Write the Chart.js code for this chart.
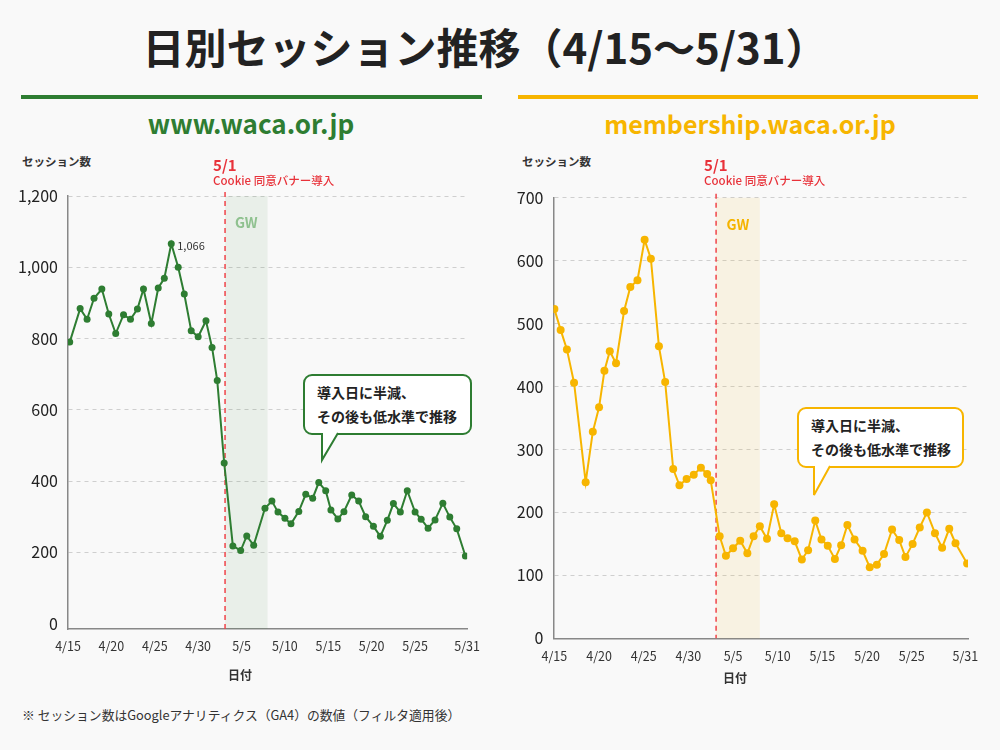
<!DOCTYPE html>
<html lang="ja">
<head>
<meta charset="utf-8">
<title>日別セッション推移</title>
<script src="https://cdn.jsdelivr.net/npm/chart.js@4.4.1/dist/chart.umd.min.js"></script>
<style>
  html, body { margin: 0; padding: 0; }
  body { width: 1000px; height: 750px; background: #f9f9f9; position: relative; overflow: hidden;
         font-family: 'Noto Sans CJK JP', 'Noto Sans', sans-serif; color: #222; }
  .t { position: absolute; line-height: 1; white-space: nowrap; }
  canvas { position: absolute; }
  .regua { position: absolute; top: 95px; height: 4px; }
  .balao { position: absolute; box-sizing: border-box; border: 2px solid; border-radius: 9px; background: #fff;
           padding: 5px 0 0 12px; font-size: 14px; font-weight: 700; line-height: 23.7px; color: #222; }
  .rabo { position: absolute; overflow: visible; }
</style>
</head>
<body>
<div class="t" style="left:0;width:970px;text-align:center;top:25px;font-size:42px;font-weight:700;color:#222">日別セッション推移（4/15〜5/31）</div>

<div class="regua" style="left:21px;width:461px;background:#2e7d32"></div>
<div class="regua" style="left:518px;width:460px;background:#f7b500"></div>
<div class="t" style="left:51px;width:400px;text-align:center;top:110px;font-size:26px;font-weight:700;color:#2e7d32">www.waca.or.jp</div>
<div class="t" style="left:550px;width:400px;text-align:center;top:111px;font-size:25px;font-weight:700;color:#f7b500">membership.waca.or.jp</div>

<div class="t" style="left:22px;top:156px;font-size:11.5px;font-weight:700;color:#333">セッション数</div>
<div class="t" style="left:522px;top:156px;font-size:11.5px;font-weight:700;color:#333">セッション数</div>

<canvas id="graficoWaca" width="490" height="540" style="left:0;top:150px"></canvas>
<canvas id="graficoMember" width="500" height="540" style="left:490px;top:150px"></canvas>

<div class="t" style="left:228px;top:669px;font-size:12px;font-weight:700;color:#333">日付</div>
<div class="t" style="left:723px;top:672px;font-size:12px;font-weight:700;color:#333">日付</div>

<div class="balao" style="left:303px;top:374px;width:169px;height:61px;border-color:#2e7d32">
  <div>導入日に半減、</div><div>その後も低水準で推移</div>
</div>
<svg class="rabo" style="left:318px;top:432px" width="26" height="32">
  <polygon points="4,0 4,28 20,0" fill="#fff"/>
  <polyline points="4,1 4,28 20,1" fill="none" stroke="#2e7d32" stroke-width="2"/>
</svg>

<div class="balao" style="left:797px;top:407px;width:167px;height:61px;border-color:#f7b500">
  <div>導入日に半減、</div><div>その後も低水準で推移</div>
</div>
<svg class="rabo" style="left:810px;top:465px" width="26" height="34">
  <polygon points="4,0 4,30 20,0" fill="#fff"/>
  <polyline points="4,1 4,30 20,1" fill="none" stroke="#f7b500" stroke-width="2"/>
</svg>

<div class="t" style="left:22px;top:709px;font-size:12.8px;color:#333">※ セッション数はGoogleアナリティクス（GA4）の数値（フィルタ適用後）</div>

<script>
// eixo x em dias a partir de 4/15
const xTickDays = [0, 5, 10, 15, 20, 25, 30, 35, 40, 46];
const xTickLabels = ['4/15', '4/20', '4/25', '4/30', '5/5', '5/10', '5/15', '5/20', '5/25', '5/31'];

const wacaYTicks = [0, 200, 400, 600, 800, 1000, 1200];
const memberYTicks = [0, 100, 200, 300, 400, 500, 600, 700];

// www.waca.or.jp
const wacaDays = [0.2, 1.4, 2.2, 3.0, 3.9, 4.7, 5.5, 6.4, 7.2, 8.0,
  8.7, 9.6, 10.4, 11.1, 11.9, 12.7, 13.4, 14.2, 15.0, 15.9,
  16.6, 17.2, 18.0, 19.0, 19.9, 20.6, 21.4, 22.7, 23.5, 24.2,
  25.0, 25.7, 26.6, 27.4, 28.2, 28.9, 29.7, 30.3, 31.1, 31.8,
  32.7, 33.5, 34.3, 35.2, 36.0, 36.8, 37.5, 38.3, 39.1, 40.0,
  40.7, 41.5, 42.3, 43.2, 44.0, 44.8, 45.8];
const wacaSessions = [790, 884, 854, 913, 939, 869, 814, 867, 854, 883,
  939, 842, 942, 969, 1066, 1000, 925, 822, 805, 850,
  775, 682, 451, 218, 205, 246, 220, 324, 344, 313,
  296, 280, 315, 363, 352, 396, 373, 319, 294, 314,
  361, 344, 300, 273, 245, 290, 337, 313, 373, 313,
  293, 268, 291, 338, 299, 266, 190];

// membership.waca.or.jp
const memberDays = [0.0, 0.7, 1.4, 2.2, 3.5, 4.3, 5.0, 5.6, 6.2, 6.9,
  7.8, 8.5, 9.3, 10.1, 10.8, 11.7, 12.4, 13.3, 14.0, 14.8,
  15.6, 16.4, 17.1, 17.5, 18.5, 19.2, 20.0, 20.8, 21.6, 22.3,
  23.0, 23.8, 24.6, 25.4, 26.1, 26.9, 27.7, 28.4, 29.2, 29.9,
  30.6, 31.4, 32.1, 32.8, 33.6, 34.5, 35.3, 36.1, 36.9, 37.8,
  38.6, 39.3, 40.1, 40.9, 41.7, 42.6, 43.4, 44.2, 44.9, 46.2];
const memberSessions = [523, 490, 459, 406, 248, 328, 367, 425, 456, 437,
  520, 558, 569, 633, 603, 464, 407, 269, 243, 253,
  260, 271, 261, 251, 162, 131, 143, 155, 135, 162,
  178, 158, 213, 167, 159, 154, 125, 140, 187, 157,
  147, 126, 148, 180, 157, 139, 113, 117, 134, 173,
  156, 129, 150, 176, 200, 167, 144, 174, 151, 119];

const bannerDay = 18.1;   // 5/1 Cookie同意バナー導入
const gwStart = 18.1;
const gwEnd = 23.0;

const fonteEixo = "'Noto Sans CJK JP', sans-serif";

function marcadores(cfg) {
  return {
    id: 'marcadores',
    beforeDatasetsDraw(chart) {
      const { ctx, chartArea: a, scales: { x } } = chart;
      const x1 = x.getPixelForValue(gwStart);
      const x2 = x.getPixelForValue(gwEnd);
      const xr = x.getPixelForValue(bannerDay);
      ctx.save();
      ctx.fillStyle = cfg.faixa;
      ctx.fillRect(x1, a.top, x2 - x1, a.bottom - a.top);

      ctx.strokeStyle = '#f0454a';
      ctx.lineWidth = 1.5;
      ctx.setLineDash([5, 4]);
      ctx.beginPath();
      ctx.moveTo(xr, a.top - 4);
      ctx.lineTo(xr, a.bottom);
      ctx.stroke();
      ctx.setLineDash([]);

      ctx.fillStyle = '#e8323a';
      ctx.textAlign = 'left';
      ctx.textBaseline = 'middle';
      ctx.font = 'bold 15px ' + fonteEixo;
      ctx.fillText('5/1', xr - 12, 15);
      ctx.font = '500 11.5px ' + fonteEixo;
      ctx.fillText('Cookie 同意バナー導入', xr - 12, 31);

      ctx.fillStyle = cfg.gwCor;
      ctx.textAlign = 'center';
      ctx.font = 'bold 14px ' + fonteEixo;
      ctx.fillText('GW', (x1 + x2) / 2, a.top + 27);
      ctx.restore();
    },
    afterDatasetsDraw(chart) {
      if (!cfg.rotuloPico) return;
      const { ctx } = chart;
      const valores = chart.data.datasets[0].data.map(p => p.y);
      const i = valores.indexOf(Math.max(...valores));
      const ponto = chart.getDatasetMeta(0).data[i];
      ctx.save();
      ctx.fillStyle = '#333';
      ctx.font = '11px ' + fonteEixo;
      ctx.textAlign = 'left';
      ctx.textBaseline = 'middle';
      ctx.fillText(valores[i].toLocaleString('en-US'), ponto.x + 6, ponto.y + 2);
      ctx.restore();
    }
  };
}

function criaGrafico(canvas, cfg) {
  return new Chart(canvas, {
    type: 'line',
    data: {
      datasets: [{
        data: cfg.dias.map((d, i) => ({ x: d, y: cfg.valores[i] })),
        borderColor: cfg.cor,
        backgroundColor: cfg.cor,
        borderWidth: 2,
        pointRadius: cfg.raio,
        pointBorderWidth: 0,
        tension: 0
      }]
    },
    options: {
      responsive: false,
      animation: false,
      layout: { padding: cfg.padding },
      plugins: { legend: { display: false }, tooltip: { enabled: false } },
      scales: {
        x: {
          type: 'linear',
          min: cfg.xMin,
          max: cfg.xMax,
          afterBuildTicks: s => { s.ticks = xTickDays.map(v => ({ value: v })); },
          afterFit: s => { s.height = cfg.alturaX; },
          ticks: {
            autoSkip: false, maxRotation: 0, padding: 10, color: '#333',
            font: { family: fonteEixo, size: 12.5 },
            callback: (v, i) => xTickLabels[i]
          },
          grid: { display: false, drawTicks: false },
          border: { color: '#888', width: 1.5 }
        },
        y: {
          min: cfg.yMin,
          max: cfg.yMax,
          afterBuildTicks: s => { s.ticks = cfg.yTicks.map(v => ({ value: v })); },
          afterFit: s => { s.width = cfg.larguraY; },
          ticks: {
            padding: 10, color: '#222',
            font: { family: fonteEixo, size: 16 },
            callback: v => v.toLocaleString('en-US')
          },
          grid: {
            drawTicks: false, lineWidth: 1,
            color: c => (c.tick && c.tick.value === 0) ? 'rgba(0,0,0,0)' : '#cfcfcf'
          },
          border: { color: '#888', width: 1.5, dash: [4, 4] }
        }
      }
    },
    plugins: [marcadores(cfg)]
  });
}

const graficoWaca = criaGrafico(document.querySelector('#graficoWaca'), {
  dias: wacaDays, valores: wacaSessions, yTicks: wacaYTicks,
  cor: '#2e7d32', faixa: 'rgba(46,125,50,0.08)', gwCor: '#8fc18f', rotuloPico: true, raio: 3.5,
  padding: { top: 46, right: 18, left: 0, bottom: 0 },
  larguraY: 68, alturaX: 61, xMin: 0, xMax: 46, yMin: -15, yMax: 1200
});

const graficoMember = criaGrafico(document.querySelector('#graficoMember'), {
  dias: memberDays, valores: memberSessions, yTicks: memberYTicks,
  cor: '#f7b500', faixa: 'rgba(247,181,0,0.09)', gwCor: '#f5b400', rotuloPico: false, raio: 4,
  padding: { top: 47.7, right: 22, left: 0, bottom: 0 },
  larguraY: 63.5, alturaX: 51.7, xMin: -0.1, xMax: 46.3, yMin: 0, yMax: 700
});
</script>
</body>
</html>
